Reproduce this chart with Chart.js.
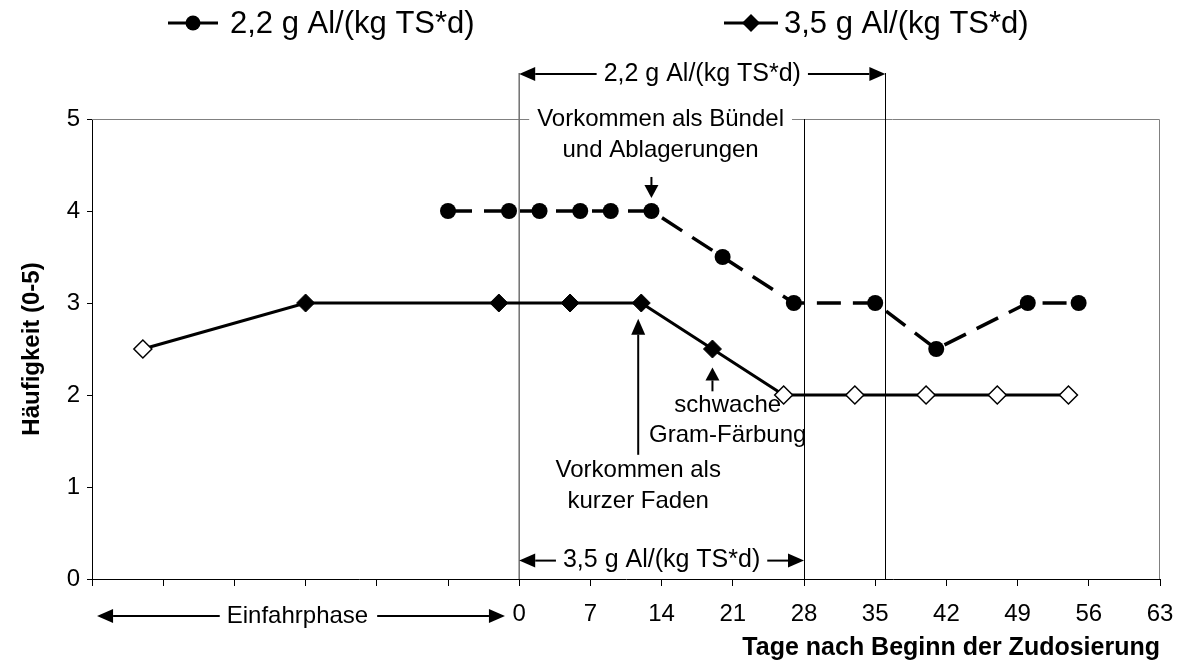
<!DOCTYPE html>
<html>
<head>
<meta charset="utf-8">
<script src="https://cdn.jsdelivr.net/npm/chart.js@4.4.1/dist/chart.umd.min.js"></script>
<style>
  html, body { margin: 0; padding: 0; background: #fff; }
  #box { width: 1178px; height: 665px; }
</style>
</head>
<body>
<div id="box"><canvas id="grafico"></canvas></div>
<script>
// Tage nach Beginn der Zudosierung / Häufigkeit (0-5)
const tage22 = [-7, -1, 2, 6, 9, 13, 20, 27, 35, 41, 50, 55];
const werte22 = [4, 4, 4, 4, 4, 4, 3.5, 3, 3, 2.5, 3, 3];

const tage35 = [-37, -21, -2, 5, 12, 19, 26, 33, 40, 47, 54];
const werte35 = [2.5, 3, 3, 3, 3, 2.5, 2, 2, 2, 2, 2];
const offen35 = [true, false, false, false, false, false, true, true, true, true, true];

const legende = ['2,2 g Al/(kg TS*d)', '3,5 g Al/(kg TS*d)'];
const xMin = -42, xMax = 63, xSchritt = 7;

const schrift = '"Liberation Sans", Arial, sans-serif';

function pfeil(ctx, x1, y1, x2, y2, lang, breit) {
  const w = Math.atan2(y2 - y1, x2 - x1);
  const bx = x2 - Math.cos(w) * lang, by = y2 - Math.sin(w) * lang;
  ctx.beginPath();
  ctx.moveTo(x1, y1);
  ctx.lineTo(bx, by);
  ctx.stroke();
  ctx.beginPath();
  ctx.moveTo(x2, y2);
  ctx.lineTo(bx + Math.sin(w) * breit, by - Math.cos(w) * breit);
  ctx.lineTo(bx - Math.sin(w) * breit, by + Math.cos(w) * breit);
  ctx.closePath();
  ctx.fill();
}

function klammer(ctx, xa, xb, y, text) {
  ctx.font = '25px ' + schrift;
  const tw = ctx.measureText(text).width;
  const mx = (xa + xb) / 2;
  ctx.textAlign = 'center';
  ctx.textBaseline = 'middle';
  ctx.fillText(text, mx, y);
  pfeil(ctx, mx - tw / 2 - 7, y, xa, y, 16, 7);
  pfeil(ctx, mx + tw / 2 + 7, y, xb, y, 16, 7);
}

const anmerkungen = {
  id: 'anmerkungen',
  beforeDatasetsDraw(chart) {
    const { ctx, chartArea: a, scales: { x, y } } = chart;
    ctx.save();
    ctx.lineWidth = 1;
    ctx.strokeStyle = '#808080';
    ctx.beginPath();
    ctx.moveTo(a.left, a.top + 0.5);
    ctx.lineTo(a.right - 0.5, a.top + 0.5);
    ctx.lineTo(a.right - 0.5, a.bottom);
    ctx.stroke();
    // Zeitabschnitte
    ctx.strokeStyle = '#707070';
    ctx.lineWidth = 1.5;
    ctx.beginPath();
    ctx.moveTo(x.getPixelForValue(0), y.getPixelForValue(5.5));
    ctx.lineTo(x.getPixelForValue(0), a.bottom);
    ctx.stroke();
    ctx.strokeStyle = '#000';
    ctx.lineWidth = 1;
    ctx.beginPath();
    ctx.moveTo(Math.round(x.getPixelForValue(28)) + 0.5, a.top);
    ctx.lineTo(Math.round(x.getPixelForValue(28)) + 0.5, a.bottom);
    ctx.moveTo(Math.round(x.getPixelForValue(36)) + 0.5, y.getPixelForValue(5.5));
    ctx.lineTo(Math.round(x.getPixelForValue(36)) + 0.5, a.bottom);
    ctx.stroke();
    ctx.restore();
  },
  afterDatasetsDraw(chart) {
    const { ctx, chartArea: a, scales: { x, y } } = chart;
    const px = v => x.getPixelForValue(v);
    const py = v => y.getPixelForValue(v);
    ctx.save();
    ctx.fillStyle = '#000';
    ctx.strokeStyle = '#000';
    ctx.lineWidth = 2;

    klammer(ctx, px(0), px(36), py(5.49), '2,2 g Al/(kg TS*d)');
    klammer(ctx, px(0), px(28), py(0.2), '3,5 g Al/(kg TS*d)');

    ctx.font = '24px ' + schrift;
    ctx.textAlign = 'center';
    ctx.textBaseline = 'middle';

    // Vorkommen als Bündel
    const bx = px(13.9);
    const bw = ctx.measureText('Vorkommen als Bündel').width;
    ctx.fillStyle = '#fff';
    ctx.fillRect(bx - bw / 2 - 8, py(5) - 15, bw + 16, 22);
    ctx.fillStyle = '#000';
    ctx.fillText('Vorkommen als Bündel', bx, py(5));
    ctx.fillText('und Ablagerungen', bx, py(4.66));
    pfeil(ctx, px(13), py(4.37), px(13), py(4.14), 13, 7);

    // schwache Gram-Färbung
    ctx.fillText('schwache', px(20.5), py(1.89));
    ctx.fillText('Gram-Färbung', px(20.5), py(1.56));
    pfeil(ctx, px(19), py(2.04), px(19), py(2.3), 13, 7);

    // Vorkommen als kurzer Faden
    ctx.fillText('Vorkommen als', px(11.7), py(1.18));
    ctx.fillText('kurzer Faden', px(11.7), py(0.84));
    pfeil(ctx, px(11.7), py(1.35), px(11.7), py(2.83), 16, 7);

    // Einfahrphase
    ctx.font = '24px ' + schrift;
    const ey = a.bottom + 37;
    const ex = px(-21.8);
    const ew = ctx.measureText('Einfahrphase').width;
    ctx.fillText('Einfahrphase', ex, ey);
    pfeil(ctx, ex - ew / 2 - 7, ey, px(-41.5), ey, 16, 7);
    pfeil(ctx, ex + ew / 2 + 9, ey, px(-1.4), ey, 16, 7);

    // Legende
    const ly = 23;
    ctx.font = '31px ' + schrift;
    ctx.textAlign = 'left';
    ctx.lineWidth = 3;
    ctx.beginPath();
    ctx.moveTo(168, ly); ctx.lineTo(218, ly);
    ctx.moveTo(724, ly); ctx.lineTo(778, ly);
    ctx.stroke();
    ctx.beginPath();
    ctx.arc(193, ly, 7.5, 0, Math.PI * 2);
    ctx.fill();
    ctx.beginPath();
    ctx.moveTo(751 - 9, ly); ctx.lineTo(751, ly - 9);
    ctx.lineTo(751 + 9, ly); ctx.lineTo(751, ly + 9);
    ctx.closePath();
    ctx.fill();
    ctx.fillText(legende[0], 230, ly + 1);
    ctx.fillText(legende[1], 784, ly + 1);
    ctx.restore();
  }
};

new Chart(document.getElementById('grafico'), {
  type: 'line',
  data: {
    datasets: [
      {
        label: legende[0],
        data: tage22.map((t, i) => ({ x: t, y: werte22[i] })),
        borderColor: '#000',
        borderWidth: 3.5,
        borderDash: [24, 12],
        pointStyle: 'circle',
        pointRadius: 8,
        pointBackgroundColor: '#000',
        pointBorderColor: '#000',
        pointBorderWidth: 0,
        tension: 0
      },
      {
        label: legende[1],
        data: tage35.map((t, i) => ({ x: t, y: werte35[i] })),
        borderColor: '#000',
        borderWidth: 3,
        pointStyle: 'rectRot',
        pointRadius: 9,
        pointBackgroundColor: ctx => offen35[ctx.dataIndex] ? '#fff' : '#000',
        pointBorderColor: '#000',
        pointBorderWidth: ctx => offen35[ctx.dataIndex] ? 1.5 : 1,
        tension: 0
      }
    ]
  },
  options: {
    responsive: true,
    maintainAspectRatio: false,
    animation: false,
    layout: { padding: { left: 0, right: 18, top: 119, bottom: 0 } },
    plugins: {
      legend: { display: false },
      tooltip: { enabled: false }
    },
    scales: {
      x: {
        type: 'linear',
        min: xMin,
        max: xMax,
        afterFit: s => { s.height = 86; s.paddingRight = 0; s.paddingLeft = 0; },
        ticks: {
          stepSize: xSchritt,
          padding: 14,
          color: '#000',
          font: { family: schrift, size: 24 },
          callback: v => v >= 0 ? v : ''
        },
        grid: { drawOnChartArea: false, tickLength: 7, color: '#000' },
        border: { color: '#000', width: 1 },
        title: {
          display: true,
          text: 'Tage nach Beginn der Zudosierung',
          align: 'end',
          color: '#000',
          font: { family: schrift, size: 25, weight: 'bold' },
          padding: { top: 0, bottom: 2 }
        }
      },
      y: {
        min: 0,
        max: 5,
        afterFit: s => { s.width = 92; },
        ticks: {
          stepSize: 1,
          padding: 7,
          color: '#000',
          font: { family: schrift, size: 24 }
        },
        grid: { drawOnChartArea: false, tickLength: 5, color: '#000' },
        border: { color: '#000', width: 1 },
        title: {
          display: true,
          text: 'Häufigkeit (0-5)',
          color: '#000',
          font: { family: schrift, size: 24, weight: 'bold' },
          padding: { top: 18, bottom: 0 }
        }
      }
    }
  },
  plugins: [anmerkungen]
});
</script>
</body>
</html>
